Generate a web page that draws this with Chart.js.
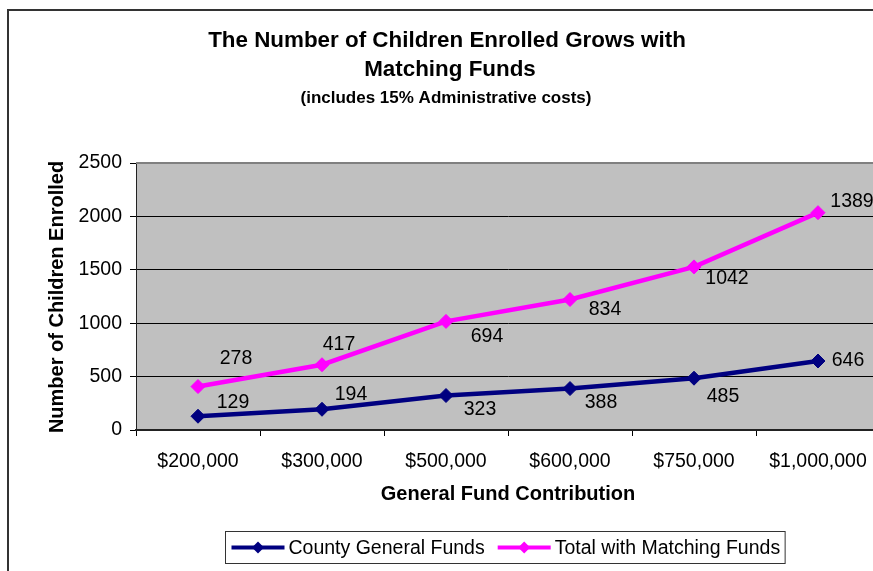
<!DOCTYPE html>
<html>
<head>
<meta charset="utf-8">
<title>Children Enrolled with Matching Funds</title>
<script src="https://cdn.jsdelivr.net/npm/chart.js@4"></script>
<style>
  html, body { margin: 0; padding: 0; background: #fff; overflow: hidden; }
  #wrap { width: 873px; height: 571px; overflow: hidden; }
  canvas { display: block; }
</style>
</head>
<body>
<div id="wrap"><canvas id="chart" width="900" height="580"></canvas></div>
<script>
const FONT = "'Liberation Sans', Arial, sans-serif";

// General fund contribution levels
const contributions = ["$200,000", "$300,000", "$500,000", "$600,000", "$750,000", "$1,000,000"];
// Children paid for by the county alone
const countyChildren = [129, 194, 323, 388, 485, 646];
// Extra children added by the matching funds
const matchedChildren = [278, 417, 694, 834, 1042, 1389];
// Total enrolled = county + matched
const totalChildren = countyChildren.map((v, i) => v + matchedChildren[i]);

const yTicks = [0, 500, 1000, 1500, 2000, 2500];

// where each value label sits relative to its point (px)
const countyLabelPos = [[35, -14], [29, -15], [34, 14], [31, 14], [29, 18], [30, 0]];
const totalLabelPos = [[38, -28], [17, -20], [41, 15], [35, 10], [33, 12], [34, -11]];

const frame = {
  id: "frame",
  beforeDraw(chart) {
    const { ctx, chartArea: a, width, height } = chart;
    ctx.save();
    ctx.fillStyle = "#fff";
    ctx.fillRect(0, 0, width, height);
    ctx.strokeStyle = "#333";
    ctx.lineWidth = 2;
    ctx.strokeRect(8, 10, width + 20, height + 20);
    ctx.fillStyle = "#C0C0C0";
    ctx.fillRect(a.left, a.top, a.right - a.left, a.bottom - a.top);
    ctx.restore();
  },
  afterDraw(chart) {
    const { ctx, chartArea: a } = chart;
    ctx.save();
    // plot area top edge
    ctx.strokeStyle = "#808080";
    ctx.lineWidth = 2;
    ctx.beginPath();
    ctx.moveTo(a.left, a.top);
    ctx.lineTo(a.right, a.top);
    ctx.stroke();

    // titles
    ctx.fillStyle = "#000";
    ctx.textAlign = "center";
    ctx.textBaseline = "alphabetic";
    ctx.font = "bold 22.4px " + FONT;
    ctx.fillText("The Number of Children Enrolled Grows with", 447, 47);
    ctx.fillText("Matching Funds", 450, 76);
    ctx.font = "bold 17px " + FONT;
    ctx.fillText("(includes 15% Administrative costs)", 446, 103);

    // axis titles
    ctx.font = "bold 20px " + FONT;
    ctx.fillText("General Fund Contribution", (a.left + a.right) / 2, 500);
    ctx.save();
    ctx.translate(63, 297);
    ctx.rotate(-Math.PI / 2);
    ctx.fillText("Number of Children Enrolled", 0, 0);
    ctx.restore();

    // value labels
    ctx.font = "19.5px " + FONT;
    ctx.textBaseline = "middle";
    const drawLabels = (dsIndex, texts, offsets) => {
      chart.getDatasetMeta(dsIndex).data.forEach((pt, i) => {
        ctx.fillText(String(texts[i]), pt.x + offsets[i][0], pt.y + offsets[i][1]);
      });
    };
    drawLabels(0, countyChildren, countyLabelPos);
    drawLabels(1, matchedChildren, totalLabelPos);

    // legend
    const lx = 225.5, ly = 531.5, lh = 32;
    const cy = ly + lh / 2;
    let x = lx + 6;
    const parts = [];
    chart.data.datasets.forEach(ds => {
      const w = ctx.measureText(ds.label).width;
      parts.push({ ds, x, w });
      x += 53 + 4 + w + 13;
    });
    const lw = x - 13 + 5 - lx;
    ctx.fillStyle = "#fff";
    ctx.fillRect(lx, ly, lw, lh);
    ctx.strokeStyle = "#333";
    ctx.lineWidth = 1;
    ctx.strokeRect(lx, ly, lw, lh);
    parts.forEach(p => {
      ctx.strokeStyle = p.ds.borderColor;
      ctx.lineWidth = 4;
      ctx.beginPath();
      ctx.moveTo(p.x, cy);
      ctx.lineTo(p.x + 53, cy);
      ctx.stroke();
      ctx.fillStyle = p.ds.borderColor;
      ctx.beginPath();
      const mx = p.x + 26.5, r = 6;
      ctx.moveTo(mx, cy - r);
      ctx.lineTo(mx + r, cy);
      ctx.lineTo(mx, cy + r);
      ctx.lineTo(mx - r, cy);
      ctx.closePath();
      ctx.fill();
      ctx.fillStyle = "#000";
      ctx.textAlign = "left";
      ctx.fillText(p.ds.label, p.x + 57, cy + 1);
    });
    ctx.restore();
  }
};

new Chart(document.getElementById("chart").getContext("2d"), {
  type: "line",
  data: {
    labels: contributions,
    datasets: [
      {
        label: "County General Funds",
        data: countyChildren,
        borderColor: "#000080",
        backgroundColor: "#000080",
        borderWidth: 4.5,
        pointStyle: "rectRot",
        pointRadius: 7,
        pointBorderWidth: 1,
        tension: 0
      },
      {
        label: "Total with Matching Funds",
        data: totalChildren,
        borderColor: "#FF00FF",
        backgroundColor: "#FF00FF",
        borderWidth: 4.5,
        pointStyle: "rectRot",
        pointRadius: 7,
        pointBorderWidth: 1,
        tension: 0
      }
    ]
  },
  options: {
    responsive: false,
    animation: false,
    devicePixelRatio: 1,
    layout: { padding: { left: 0, top: 163, right: 20, bottom: 110 } },
    plugins: {
      legend: { display: false },
      title: { display: false },
      tooltip: { enabled: false }
    },
    scales: {
      x: {
        type: "category",
        offset: true,
        afterFit: s => { s.height = 40; },
        grid: { offset: true, drawOnChartArea: false, color: "#000", tickLength: 6 },
        border: { color: "#222", width: 2 },
        ticks: { color: "#000", padding: 14, maxRotation: 0, font: { family: FONT, size: 19.5 } }
      },
      y: {
        min: 0,
        max: 2500,
        afterFit: s => { s.width = 136; },
        afterBuildTicks: s => { s.ticks = yTicks.map(v => ({ value: v })); },
        grid: { color: "#000", lineWidth: 1, tickLength: 6 },
        border: { color: "#222", width: 1 },
        ticks: {
          color: "#000",
          padding: 8,
          font: { family: FONT, size: 19.5 },
          callback: v => String(v)
        }
      }
    }
  },
  plugins: [frame]
});
</script>
</body>
</html>
